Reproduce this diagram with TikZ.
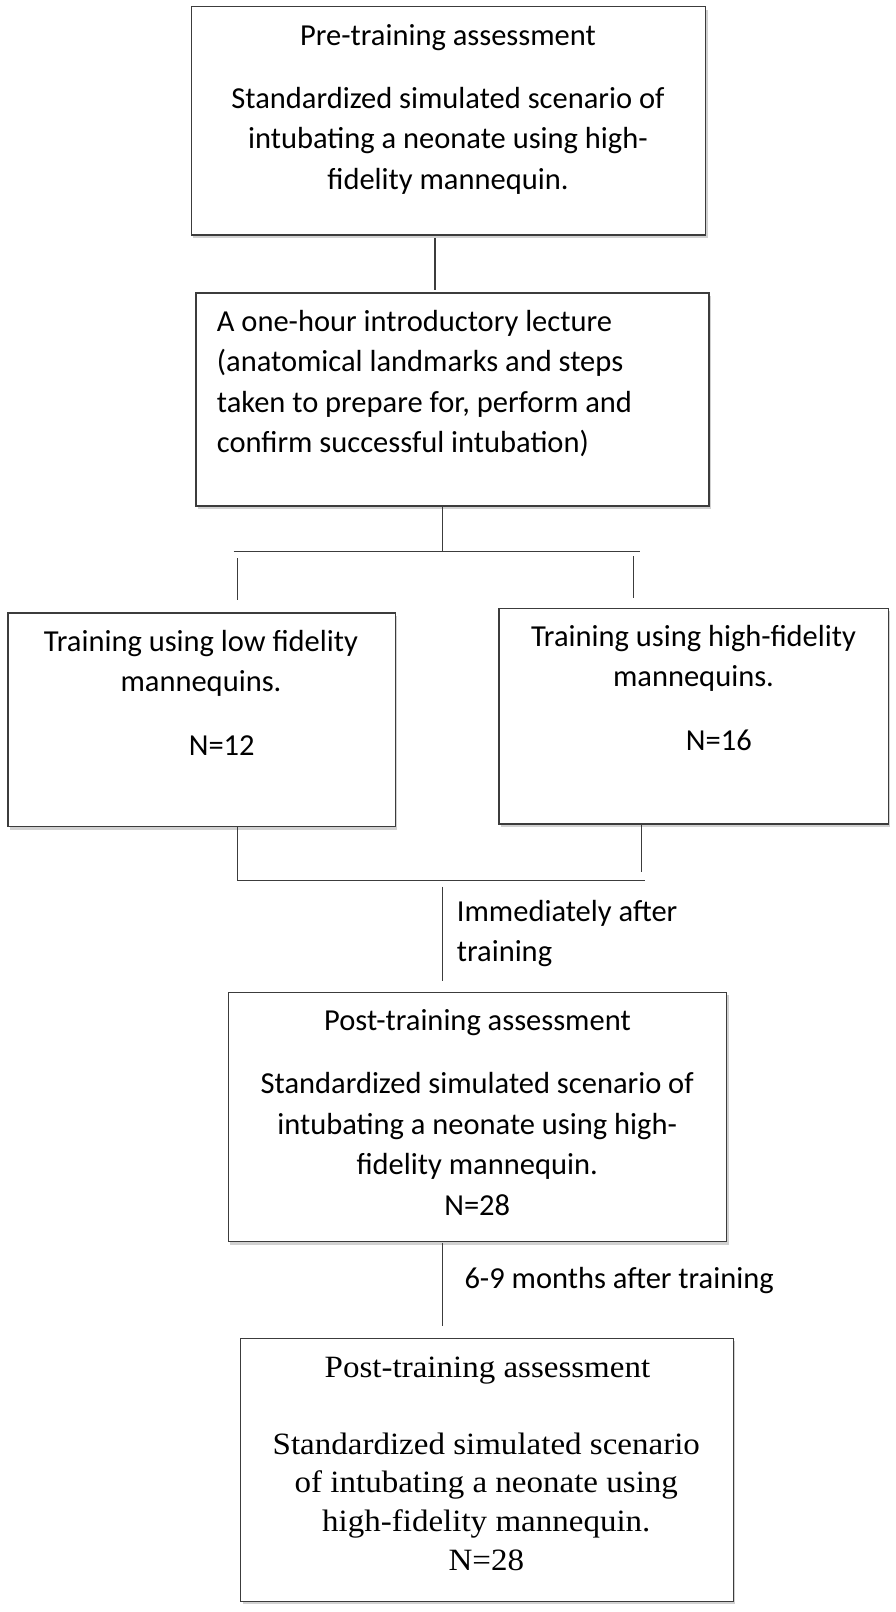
\documentclass[tikz,border=0pt]{standalone}
\usepackage{fontspec}
\setmainfont{Carlito}
\newfontfamily\serifcmb{Liberation Serif}[FakeStretch=1.065]
\usetikzlibrary{shadows}
\definecolor{edge}{HTML}{3C3C3C}
\tikzset{
  box/.style={draw=edge, line width=1.2pt, fill=white, inner sep=0pt, anchor=north west,
    drop shadow={shadow xshift=2pt, shadow yshift=-3pt, opacity=0.18, fill=black}},
  txt/.style={inner sep=0pt, anchor=base, align=center, font=\fontsize{30.5}{40.5}\selectfont},
  ltxt/.style={txt, align=left, anchor=base west},
  stxt/.style={inner sep=0pt, anchor=base, align=center, font=\serifcmb\fontsize{31}{38.6}\selectfont},
  link/.style={draw=edge, line width=1.1pt},
}
\begin{document}
\begin{tikzpicture}[x=1pt,y=-1pt]
\useasboundingbox (0,0) rectangle (896,1612);

% box 1
\node[box, minimum width=514.5pt, minimum height=228.3pt] (b1) at (190.5,6) {};
\node[txt] (t1a) at (448,45.7) {Pre-training assessment};
\node[txt] (t1b) at (448,189.3) {Standardized simulated scenario of\\intubating a neonate using high-\\fidelity mannequin.};

% box 2
\node[box, minimum width=513pt, minimum height=213pt] (b2) at (195.3,292.3) {};
\node[ltxt] (t2) at (216.7,452.9) {A one-hour introductory lecture\\(anatomical landmarks and steps\\taken to prepare for, perform and\\confirm successful intubation)};

% training boxes
\node[box, minimum width=387.4pt, minimum height=213.7pt] (b3) at (7.3,612.3) {};
\node[txt] (t3) at (201,691.7) {Training using low fidelity\\mannequins.};
\node[txt] (n3) at (221.7,755) {N=12};

\node[box, minimum width=389.4pt, minimum height=215.6pt] (b4) at (498.3,607.7) {};
\node[txt] (t4) at (693.5,686.7) {Training using high-fidelity\\mannequins.};
\node[txt] (n4) at (718.8,750) {N=16};

% post-training 1
\node[box, minimum width=498.3pt, minimum height=249.3pt] (b5) at (227.7,991.7) {};
\node[txt] (t5a) at (477.5,1030.7) {Post-training assessment};
\node[txt] (t5b) at (477.2,1215) {Standardized simulated scenario of\\intubating a neonate using high-\\fidelity mannequin.\\N=28};

% post-training 2
\node[box, minimum width=492.7pt, minimum height=263pt] (b6) at (240,1337.7) {};
\node[stxt] (t6a) at (487.5,1377.3) {Post-training assessment};
\node[stxt] (t6b) at (486.3,1570) {Standardized simulated scenario\\of intubating a neonate using\\high-fidelity mannequin.\\N=28};

% labels
\node[ltxt] (l1) at (456.7,961.7) {Immediately after\\training};
\node[ltxt] (l2) at (464.3,1288.3) {6-9 months after training};

% connectors
\coordinate (c1t) at (435,238);
\coordinate (c1b) at (435,290);
\draw[link] (c1t) -- (c1b);

\coordinate (j1) at (442.7,551.7);
\coordinate (hl) at (233.7,551.7);
\coordinate (hr) at (640,551.7);
\draw[link] (b2.south -| j1) -- (j1);
\draw[link] (hl) -- (hr);
\coordinate (dlt) at (237.3,558.3);
\coordinate (dlb) at (237.3,600);
\coordinate (drt) at (633.3,556);
\coordinate (drb) at (633.3,598.3);
\draw[link] (dlt) -- (dlb);
\draw[link] (drt) -- (drb);

\coordinate (ml) at (237.3,880.6);
\coordinate (mr) at (644.5,880.6);
\coordinate (mrb) at (641.7,871.7);
\draw[link] (b3.south -| ml) -- (ml);
\draw[link] (b4.south -| mrb) -- (mrb);
\draw[link] (ml) -- (mr);
\coordinate (j2t) at (442.3,886.7);
\coordinate (j2b) at (442.3,980.7);
\draw[link] (j2t) -- (j2b);

\coordinate (j3t) at (442.7,1243.3);
\coordinate (j3b) at (442.7,1326);
\draw[link] (j3t) -- (j3b);
\end{tikzpicture}
\end{document}
